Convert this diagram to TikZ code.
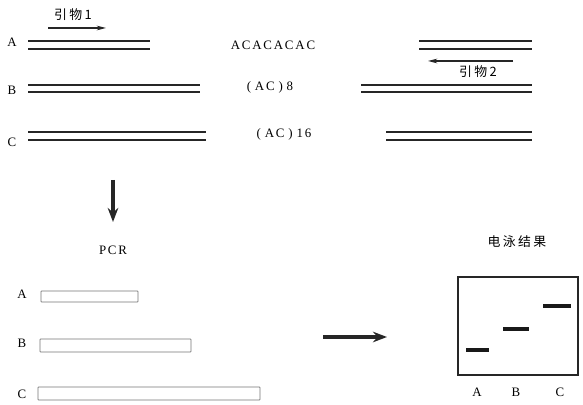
\documentclass[tikz,border=0pt]{standalone}
\usepackage{fontspec}
\setmainfont{Liberation Serif}
\newfontfamily\spc[LetterSpace=14]{Liberation Serif}
\newfontfamily\cjk[LetterSpace=18]{Noto Sans CJK SC}
\usetikzlibrary{arrows.meta}
\tikzset{
    strand/.style={double, line width=1.7pt, double distance=5pt, draw=black!85},
    primer/.style={-{Stealth[length=8pt, width=4pt]}, line width=1pt, black!85},
    step arrow/.style={-{Stealth[length=12pt, width=9pt]}, line width=2.6pt, black!85},
    product/.style={draw=black!55, line width=0.7pt, rounded corners=0.5pt},
    band/.style={line width=2.6pt, black!90}
}
\newcommand{\gap}{\hspace{0.3em}}
\begin{document}
\begin{tikzpicture}[x=0.03cm, y=-0.03cm, font=\fontsize{11}{13}\selectfont]
    \useasboundingbox (0,0) rectangle (583,405);
    % templates
    \node (tA) at (12,42) {A};
    \node (tB) at (12,90) {B};
    \node (tC) at (12,142) {C};
    \draw[strand] (28,45) -- (150,45);
    \draw[strand] (419,45) -- (532,45);
    \draw[strand] (28,88.5) -- (200,88.5);
    \draw[strand] (361,88.5) -- (532,88.5);
    \draw[strand] (28,136) -- (206,136);
    \draw[strand] (386,136) -- (532,136);
    \node (rA) at (273,45) {\spc ACACACAC};
    \node (rB) at (270,87) {\spc (\gap AC\gap)\gap 8};
    \node (rC) at (284,134) {\spc (\gap AC\gap)\gap 16};
    % primers
    \node (p1) at (73,15) {\cjk 引物1};
    \node (p2) at (478,72) {\cjk 引物2};
    \draw[primer] (48,28) -- (106,28);
    \draw[primer] (513,61) -- (428,61);
    % PCR
    \coordinate (down) at (113,180);
    \node (pcr) at (113,250) {\spc PCR};
    \draw[step arrow] (down) -- (113,222);
    \node (sA) at (22,294) {A};
    \node (sB) at (22,343) {B};
    \node (sC) at (22,394) {C};
    \draw[product] (41,291) rectangle (138,302);
    \draw[product] (40,339) rectangle (191,352);
    \draw[product] (38,387) rectangle (260,400);
    \coordinate (from) at (323,337);
    \coordinate (to) at (387,337);
    \draw[step arrow] (from) -- (to);
    % gel
    \node (gel) at (517,242) {\cjk 电泳结果};
    \draw[black!85, line width=0.9pt] (458,277) rectangle (578,375);
    \draw[band] (466,350) -- (489,350);
    \draw[band] (503,329) -- (529,329);
    \draw[band] (543,306) -- (571,306);
    \node (gA) at (477,392) {A};
    \node (gB) at (516,392) {B};
    \node (gC) at (560,392) {C};
\end{tikzpicture}
\end{document}
